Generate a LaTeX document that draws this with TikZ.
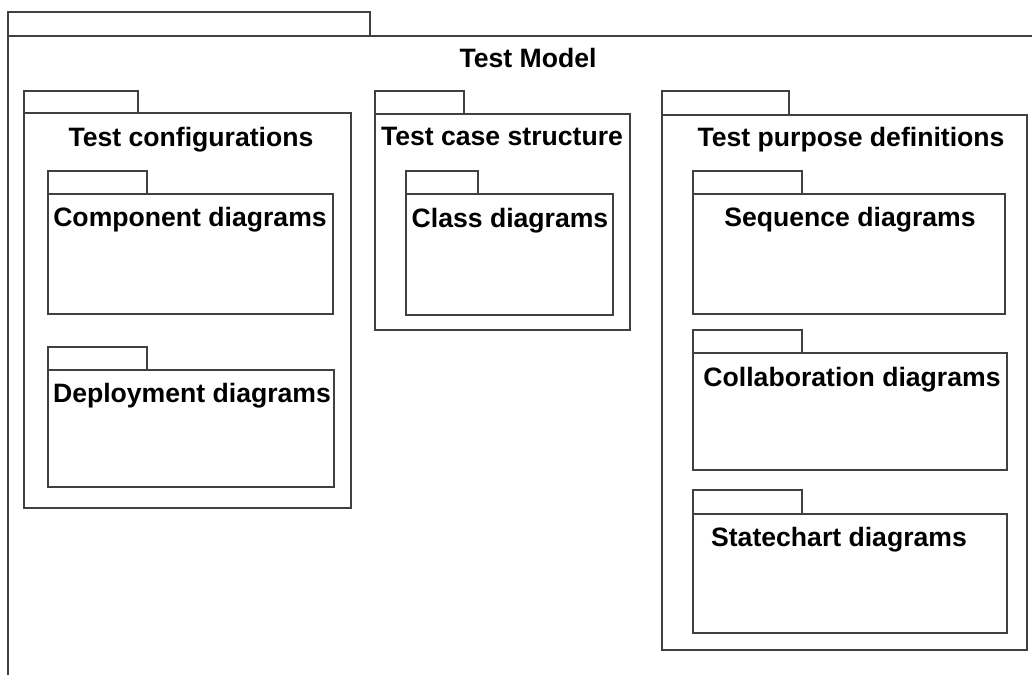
\documentclass[tikz,border=0pt]{standalone}
\usepackage{fontspec}
\setmainfont{Liberation Sans}
\usepackage{tikz}
\usetikzlibrary{positioning, calc}

\begin{document}
\begin{tikzpicture}[x=0.5pt, y=-0.5pt]
% --- PACOTES UML: ABA + CORPO, TITULOS EM NEGRITO ---
\definecolor{linha}{HTML}{404040}
\tikzset{
  pacote/.style={draw=linha, line width=0.6pt},
  titulo/.style={anchor=base, inner sep=0pt, font=\fontsize{13.3}{16}\selectfont\bfseries}
}
\useasboundingbox (0,0) rectangle (1032,675);

% LAYER 1: Pacote externo (cortado na borda)
\draw[pacote] (8,12) rectangle (370,36);
\draw[pacote] (8,675) -- (8,36) -- (1032,36);
\node[titulo] (model) at (528,67) {Test Model};

% LAYER 2: Test configurations
\draw[pacote] (24,91) rectangle (138,113);
\draw[pacote] (24,113) rectangle (351,508);
\node[titulo] (config) at (191,146) {Test configurations};

\draw[pacote] (48,171) rectangle (147,194);
\draw[pacote] (48,194) rectangle (333,314);
\node[titulo] (compo) at (190,226) {Component diagrams};

\draw[pacote] (48,347) rectangle (147,370);
\draw[pacote] (48,370) rectangle (334,487);
\node[titulo] (deploy) at (192,402) {Deployment diagrams};

% LAYER 3: Test case structure
\draw[pacote] (375,91) rectangle (464,114);
\draw[pacote] (375,114) rectangle (630,330);
\node[titulo] (estrut) at (502,145) {Test case structure};

\draw[pacote] (406,171) rectangle (478,194);
\draw[pacote] (406,194) rectangle (613,315);
\node[titulo] (classe) at (510,227) {Class diagrams};

% LAYER 4: Test purpose definitions
\draw[pacote] (662,91) rectangle (789,115);
\draw[pacote] (662,115) rectangle (1027,650);
\node[titulo] (purpose) at (851,146) {Test purpose definitions};

\draw[pacote] (693,171) rectangle (802,194);
\draw[pacote] (693,194) rectangle (1005,314);
\node[titulo] (seq) at (850,226) {Sequence diagrams};

\draw[pacote] (693,330) rectangle (802,353);
\draw[pacote] (693,353) rectangle (1007,470);
\node[titulo] (colab) at (852,386) {Collaboration diagrams};

\draw[pacote] (693,490) rectangle (802,514);
\draw[pacote] (693,514) rectangle (1007,633);
\node[titulo] (state) at (839,546) {Statechart diagrams};
\end{tikzpicture}
\end{document}
